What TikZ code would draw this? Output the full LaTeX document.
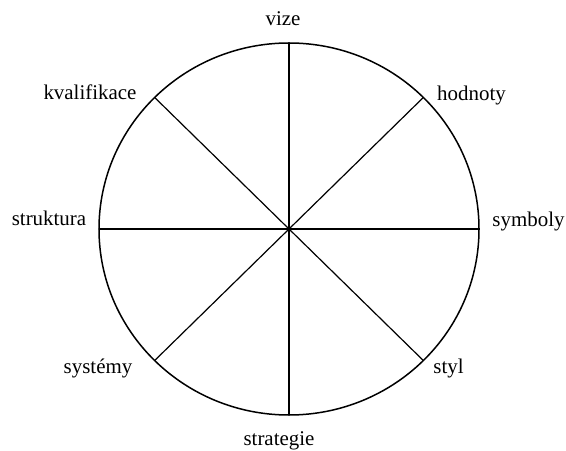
\documentclass[tikz,border=0pt]{standalone}
\usepackage{fontspec}
\setmainfont{Liberation Serif}
\usetikzlibrary{calc}
\tikzset{
    rim/.style={draw=black, line width=1.5bp},
    spoke/.style={draw=black, line width=1.2bp},
    lbl/.style={font=\fontsize{21}{25}\selectfont, text=black, anchor=base, inner sep=0pt}
}
\begin{document}
\begin{tikzpicture}[x=1bp, y=-1bp]
    \useasboundingbox (0,0) rectangle (566,451);
    % === Wheel ===
    \coordinate (c) at (289,229);
    \draw[rim] (c) ellipse [x radius=190bp, y radius=186bp];
    \foreach \a/\n in {90/n, 45/ne, 0/e, -45/se, -90/s, -135/sw, 180/w, 135/nw} {
        \coordinate (p\n) at ($(c)+(\a:190bp and 186bp)$);
        \draw[spoke] (c) -- (p\n);
    }
    % === Labels ===
    \node[lbl] (vize) at (283,26) {vize};
    \node[lbl] (hodnoty) at (471.5,101) {hodnoty};
    \node[lbl] (symboly) at (528.5,227) {symboly};
    \node[lbl] (styl) at (448.5,373) {styl};
    \node[lbl] (strategie) at (279,445) {strategie};
    \node[lbl] (systemy) at (98,373) {systémy};
    \node[lbl] (struktura) at (49,226) {struktura};
    \node[lbl] (kvalifikace) at (90,100) {kvalifikace};
\end{tikzpicture}
\end{document}
